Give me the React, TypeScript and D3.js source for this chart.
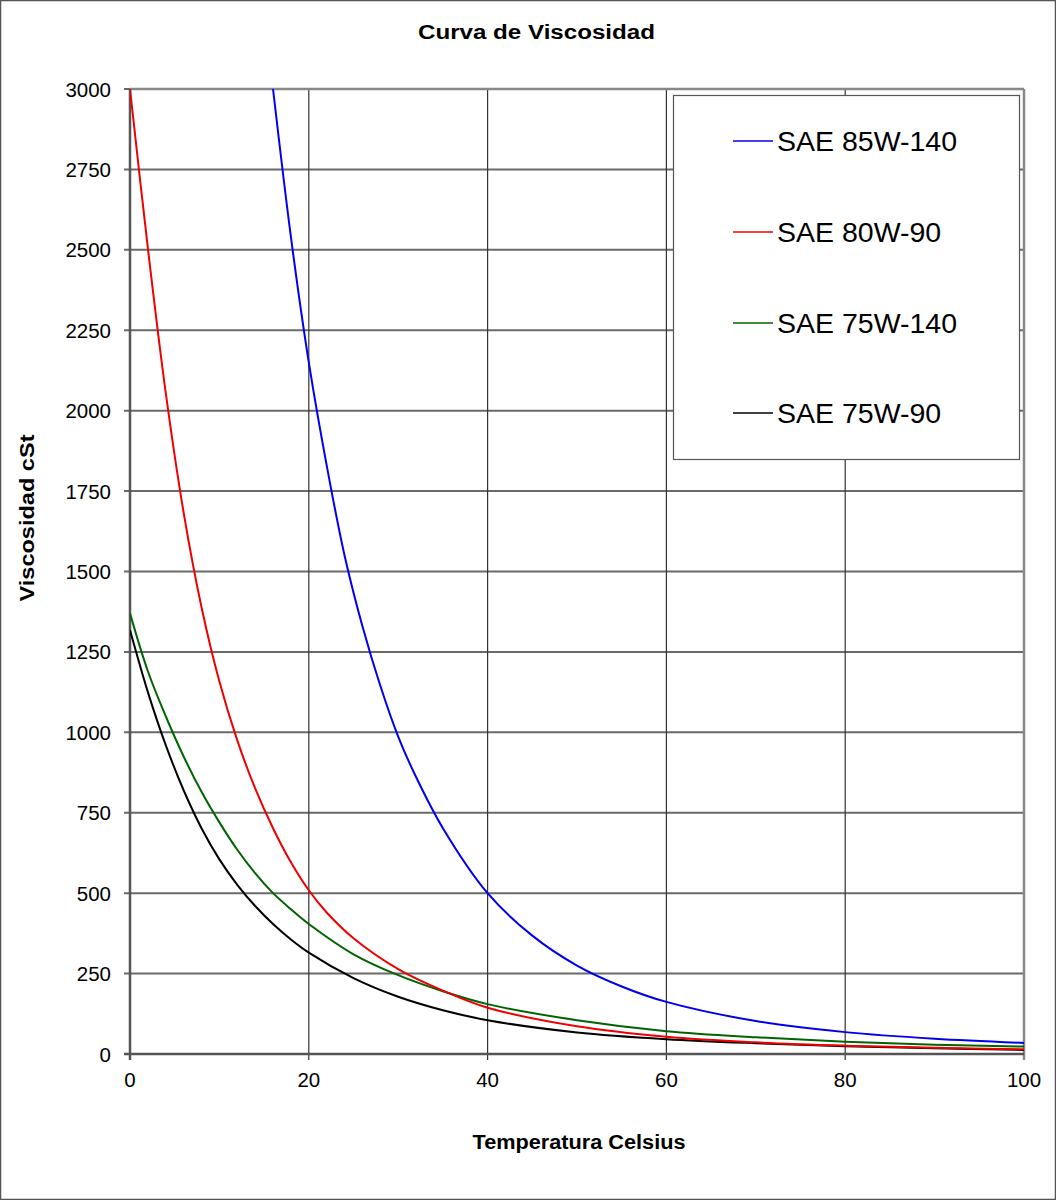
import React, { useEffect, useRef } from "react";
import * as d3 from "d3";

const xTicks = [0, 20, 40, 60, 80, 100];
const yTicks = [0, 250, 500, 750, 1000, 1250, 1500, 1750, 2000, 2250, 2500, 2750, 3000];

const seriesNames = ["SAE 85W-140", "SAE 80W-90", "SAE 75W-140", "SAE 75W-90"];
const seriesColors = ["#0000ee", "#ee0000", "#006400", "#000000"];

const temps85W140 = [16, 18, 20, 22, 24, 26, 28, 30, 32, 35, 40, 45, 50, 55, 60, 70, 80, 90, 100];
const visc85W140 = [3000, 2540, 2150, 1830, 1550, 1330, 1145, 987, 861, 702, 500, 368, 275, 210, 162, 102.5, 68, 47.5, 34.5];

const temps80W90 = [0, 2, 4, 6, 8, 10, 12, 14, 16, 18, 20, 22, 25, 30, 35, 40, 50, 60, 70, 80, 90, 100];
const visc80W90 = [3000, 2505, 2055, 1683, 1389, 1158, 975, 826, 702, 596, 509, 440, 360, 264, 197, 144, 86, 53.5, 36.2, 26, 19.3, 14.6];

const temps75W140 = [0, 2, 4, 6, 8, 10, 12, 14, 16, 18, 20, 25, 30, 35, 40, 50, 60, 70, 80, 90, 100];
const visc75W140 = [1370, 1190, 1050, 925, 815, 720, 635, 562, 500, 450, 404, 310, 245, 195, 155, 105, 71, 52, 38, 29, 23];

const temps75W90 = [0, 2, 4, 6, 8, 10, 12, 14, 16, 18, 20, 25, 30, 35, 40, 50, 60, 70, 80, 90, 100];
const visc75W90 = [1318, 1125, 960, 820, 702, 605, 526, 460, 404, 356, 315, 236, 178, 136, 105, 67, 46, 33.5, 24.4, 17.7, 12.8];

const seriesTemps = [temps85W140, temps80W90, temps75W140, temps75W90];
const seriesVals = [visc85W140, visc80W90, visc75W140, visc75W90];

const W = 1056;
const H = 1200;
const FONT = "'Liberation Sans', Arial, Helvetica, sans-serif";

export default function App() {
  const ref = useRef<SVGSVGElement>(null);

  useEffect(() => {
    const svg = d3.select(ref.current);
    svg.selectAll("*").remove();

    const left = 130, right = 1024, top = 89, bottom = 1054;
    const x = d3.scaleLinear().domain([0, 100]).range([left, right]);
    const y = d3.scaleLinear().domain([0, 3000]).range([bottom, top]);

    svg.append("rect").attr("x", 0).attr("y", 0).attr("width", W).attr("height", H).attr("fill", "#fff");
    svg.append("rect").attr("x", 0.5).attr("y", 0.5).attr("width", W - 1).attr("height", H - 1)
      .attr("fill", "none").attr("stroke", "#555").attr("stroke-width", 1.5);

    // title
    svg.append("text").attr("x", 536.5).attr("y", 39).attr("text-anchor", "middle")
      .attr("font-family", FONT).attr("font-weight", "bold").attr("font-size", 20).text("Curva de Viscosidad")
      .attr("textLength", 237).attr("lengthAdjust", "spacingAndGlyphs");

    // gridlines horizontal
    const g = svg.append("g");
    g.selectAll("line.hg").data(yTicks).enter().append("line")
      .attr("x1", left - 6).attr("x2", right)
      .attr("y1", (d) => y(d)).attr("y2", (d) => y(d))
      .attr("stroke", "#6a6a6a").attr("stroke-width", 2);
    // gridlines vertical
    g.selectAll("line.vg").data(xTicks).enter().append("line")
      .attr("x1", (d) => x(d)).attr("x2", (d) => x(d))
      .attr("y1", top).attr("y2", bottom + 6)
      .attr("stroke", "#333").attr("stroke-width", 1.2);

    // border right & top
    svg.append("line").attr("x1", right).attr("x2", right).attr("y1", top).attr("y2", bottom + 6)
      .attr("stroke", "#888").attr("stroke-width", 2.5);
    svg.append("line").attr("x1", left).attr("x2", right).attr("y1", top).attr("y2", top)
      .attr("stroke", "#888").attr("stroke-width", 2.5);

    // axes
    svg.append("line").attr("x1", left).attr("x2", left).attr("y1", top).attr("y2", bottom + 6)
      .attr("stroke", "#555").attr("stroke-width", 2.5);
    svg.append("line").attr("x1", left - 6).attr("x2", right).attr("y1", bottom).attr("y2", bottom)
      .attr("stroke", "#555").attr("stroke-width", 2.5);

    // tick labels
    svg.selectAll("text.yt").data(yTicks).enter().append("text")
      .attr("x", 111).attr("y", (d) => y(d) + 7.5).attr("text-anchor", "end")
      .attr("font-family", FONT).attr("font-size", 20.5).text((d) => String(d));
    svg.selectAll("text.xt").data(xTicks).enter().append("text")
      .attr("x", (d) => x(d)).attr("y", 1087).attr("text-anchor", "middle")
      .attr("font-family", FONT).attr("font-size", 20.5).text((d) => String(d));

    // axis titles
    svg.append("text").attr("x", 579).attr("y", 1149).attr("text-anchor", "middle")
      .attr("font-family", FONT).attr("font-weight", "bold").attr("font-size", 20)
      .attr("textLength", 213).attr("lengthAdjust", "spacingAndGlyphs").text("Temperatura Celsius");
    svg.append("text").attr("transform", "translate(34,518) rotate(-90)").attr("text-anchor", "middle")
      .attr("font-family", FONT).attr("font-weight", "bold").attr("font-size", 21)
      .attr("textLength", 167).attr("lengthAdjust", "spacingAndGlyphs").text("Viscosidad cSt");

    // clip
    svg.append("clipPath").attr("id", "plotclip").append("rect")
      .attr("x", left).attr("y", top - 1).attr("width", right - left).attr("height", bottom - top + 1);

    const line = d3.line<[number, number]>().x((d) => x(d[0])).y((d) => y(d[1])).curve(d3.curveCatmullRom.alpha(0.5));
    const curves = svg.append("g").attr("clip-path", "url(#plotclip)");
    for (let i = seriesNames.length - 1; i >= 0; i--) {
      const pts: [number, number][] = seriesTemps[i].map((t, j) => [t, seriesVals[i][j]]);
      curves.append("path").attr("d", line(pts) as string).attr("fill", "none")
        .attr("stroke", seriesColors[i]).attr("stroke-width", 2);
    }

    // legend
    const lg = svg.append("g");
    lg.append("rect").attr("x", 673.5).attr("y", 95.5).attr("width", 346).attr("height", 364)
      .attr("fill", "#fff").attr("stroke", "#555").attr("stroke-width", 1.2);
    const rowY = [141, 232, 323, 413];
    seriesNames.forEach((name, i) => {
      lg.append("line").attr("x1", 733).attr("x2", 773).attr("y1", rowY[i]).attr("y2", rowY[i])
        .attr("stroke", seriesColors[i]).attr("stroke-width", 1.5);
      lg.append("text").attr("x", 777).attr("y", rowY[i] + 10).attr("font-family", FONT)
        .attr("font-size", 28.5).text(name);
    });
  }, []);

  return (
    <svg ref={ref} width={W} height={H} style={{ position: "absolute", left: 0, top: 0, display: "block" }} />
  );
}
